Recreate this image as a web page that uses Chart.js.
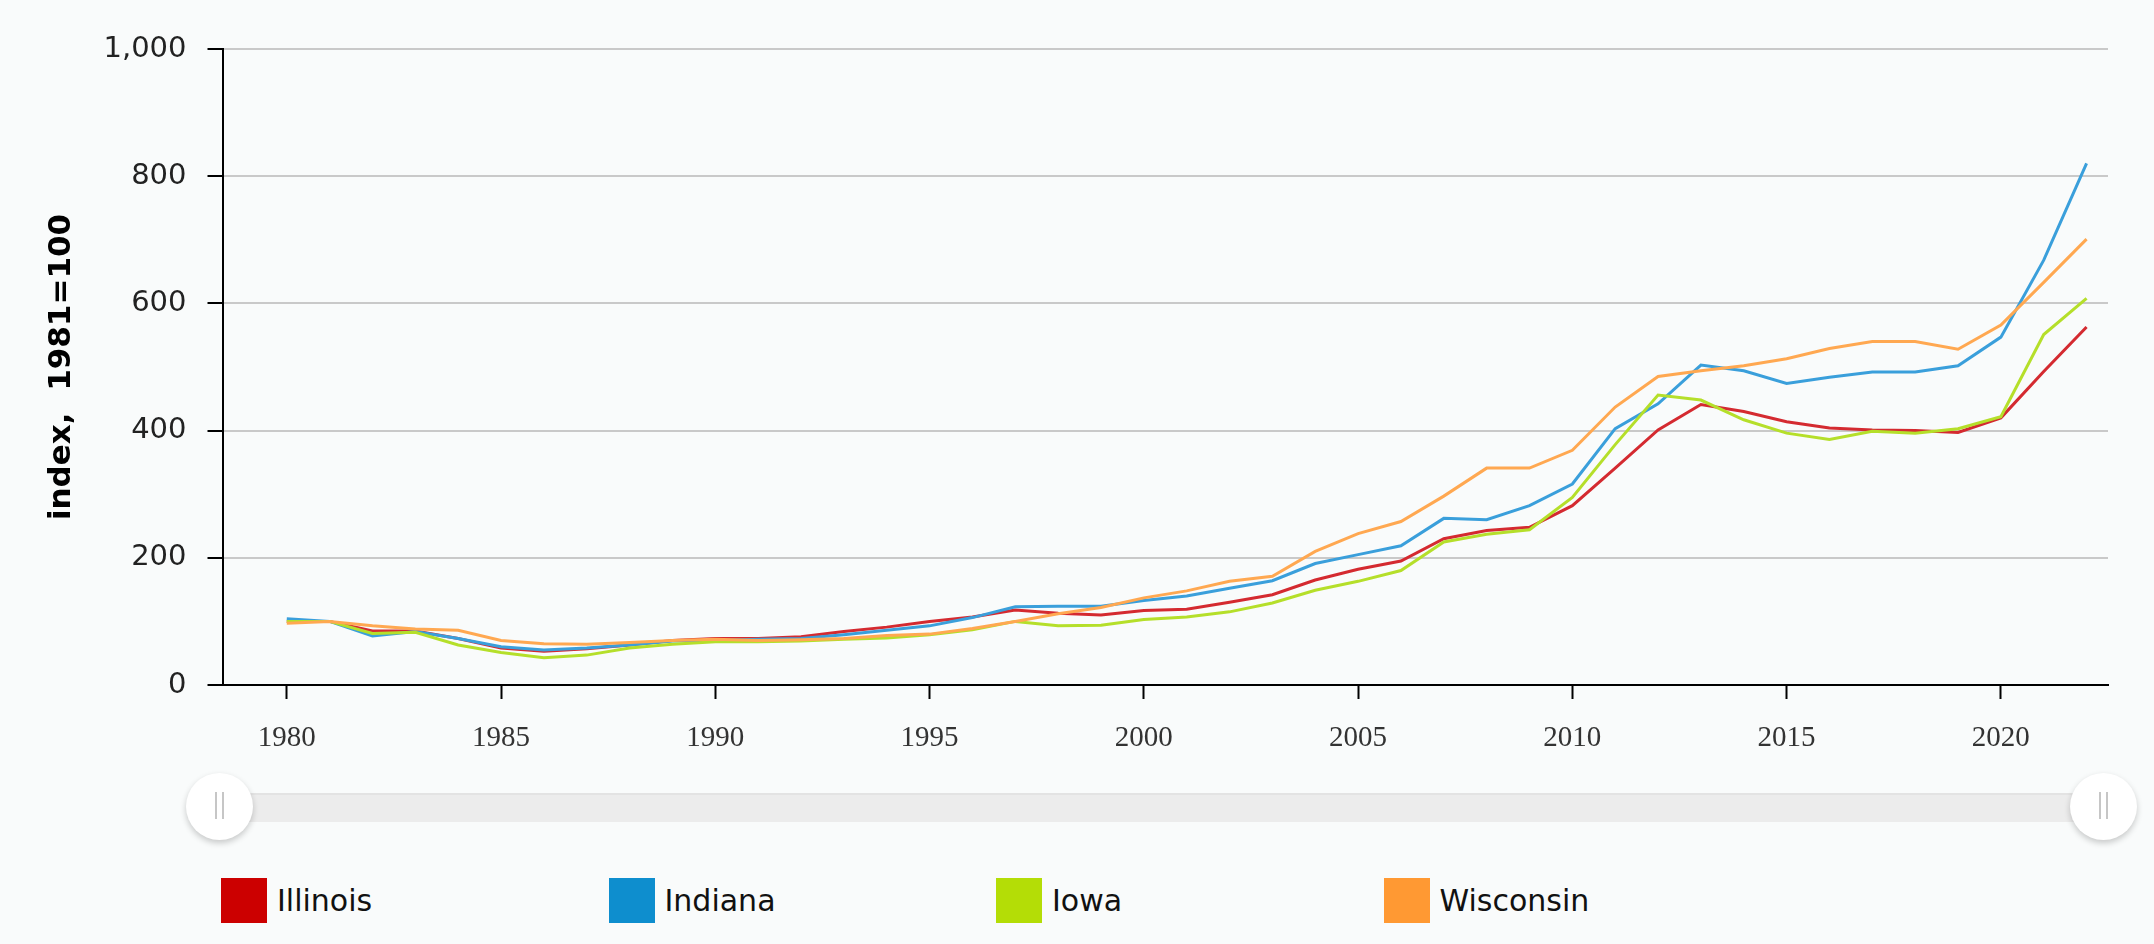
<!DOCTYPE html>
<html>
<head>
<meta charset="utf-8">
<title>index, 1981=100</title>
<script src="https://cdn.jsdelivr.net/npm/chart.js@4.4.1/dist/chart.umd.min.js"></script>
<style>
    html, body {
        margin: 0;
        padding: 0;
        background: #f9fbfb;
    }
    #wrap {
        position: relative;
        width: 2154px;
        height: 944px;
        overflow: hidden;
    }
    #chartBox {
        position: absolute;
        left: 0;
        top: 0;
        width: 2154px;
        height: 765px;
    }
    .track {
        position: absolute;
        left: 220px;
        top: 793px;
        width: 1884px;
        height: 27px;
        background: #ececec;
        border-top: 2px solid #e3e3e3;
    }
    .handle {
        position: absolute;
        top: 773px;
        width: 67px;
        height: 67px;
        border-radius: 50%;
        background: #fff;
        box-shadow: 0 3px 6px rgba(0, 0, 0, 0.2);
    }
    .handle::before, .handle::after {
        content: '';
        position: absolute;
        top: 19px;
        width: 2px;
        height: 27px;
        background: #c6c6c6;
    }
    .handle::before { left: 29px; }
    .handle::after { left: 36px; }
    #legend {
        position: absolute;
        left: 0;
        top: 878px;
        width: 2154px;
        height: 46px;
    }
    .item {
        position: absolute;
        top: 0;
        height: 45px;
        font-family: 'DejaVu Sans', Verdana, sans-serif;
        font-size: 30px;
        line-height: 45px;
        color: #111;
        white-space: nowrap;
    }
    .item .sw {
        display: inline-block;
        width: 46px;
        height: 45px;
        vertical-align: top;
        margin-right: 10px;
    }
</style>
</head>
<body>
<div id="wrap">
    <div id="chartBox"><canvas id="chart"></canvas></div>
    <div class="track"></div>
    <div class="handle" style="left:186px"></div>
    <div class="handle" style="left:2070px"></div>
    <div id="legend"></div>
</div>
<script>
const years = [1980, 1981, 1982, 1983, 1984, 1985, 1986, 1987, 1988, 1989,
    1990, 1991, 1992, 1993, 1994, 1995, 1996, 1997, 1998, 1999,
    2000, 2001, 2002, 2003, 2004, 2005, 2006, 2007, 2008, 2009,
    2010, 2011, 2012, 2013, 2014, 2015, 2016, 2017, 2018, 2019,
    2020, 2021, 2022];

const illinois = [100, 100, 85, 85, 73, 58, 53, 57, 63, 70,
    73, 73, 76, 84, 91, 100, 107, 118, 113, 110,
    117, 119, 130, 142, 165, 182, 195, 230, 243, 248,
    282, 341, 401, 441, 430, 414, 404, 401, 400, 397,
    420, 493, 563];

const indiana = [104, 100, 77, 84, 73, 60, 55, 58, 63, 69,
    70, 72, 73, 79, 86, 93, 106, 123, 124, 124,
    133, 140, 152, 164, 191, 205, 219, 262, 260, 282,
    316, 403, 442, 503, 494, 474, 484, 492, 492, 502,
    547, 668, 820];

const iowa = [100, 100, 81, 83, 63, 51, 43, 47, 58, 64,
    68, 68, 69, 72, 74, 79, 87, 100, 93, 94,
    103, 107, 115, 129, 149, 163, 180, 225, 237, 244,
    295, 378, 456, 448, 417, 396, 386, 399, 396, 403,
    422, 551, 608];

const wisconsin = [97, 100, 93, 88, 86, 70, 65, 64, 67, 70,
    72, 70, 71, 73, 78, 80, 89, 100, 112, 122,
    137, 148, 163, 171, 210, 238, 257, 297, 341, 341,
    369, 437, 485, 494, 502, 513, 529, 540, 540, 528,
    566, 633, 701];

const seriesNames = ['Illinois', 'Indiana', 'Iowa', 'Wisconsin'];
const xTicks = [1980, 1985, 1990, 1995, 2000, 2005, 2010, 2015, 2020];
const yTicks = [0, 200, 400, 600, 800, 1000];

// цвета линий и квадратиков легенды
const lineColors = ['#d42a30', '#3a9fdb', '#b5df2a', '#ffa851'];
const swatchColors = ['#cc0000', '#0e8ece', '#b4dd06', '#ff9933'];

const toPoints = (vals) => years.map((yr, i) => ({ x: yr, y: vals[i] }));

const allSeries = [illinois, indiana, iowa, wisconsin];

const datasets = allSeries.map((vals, i) => ({
    label: seriesNames[i],
    data: toPoints(vals),
    borderColor: lineColors[i],
    backgroundColor: lineColors[i],
    borderWidth: 3,
    pointRadius: 0,
    fill: false,
    tension: 0,
    order: allSeries.length - 1 - i
}));

document.addEventListener('DOMContentLoaded', () => {
    const ctx = document.getElementById('chart').getContext('2d');
    new Chart(ctx, {
        type: 'line',
        data: { datasets: datasets },
        options: {
            animation: false,
            responsive: true,
            maintainAspectRatio: false,
            layout: {
                padding: { top: 49, right: 46, bottom: 0, left: 0 }
            },
            plugins: {
                legend: { display: false },
                tooltip: { enabled: false }
            },
            scales: {
                x: {
                    type: 'linear',
                    min: 1978.5,
                    max: 2022.5,
                    afterBuildTicks: (scale) => {
                        scale.ticks = xTicks.map(v => ({ value: v }));
                    },
                    afterFit: (scale) => {
                        scale.height = 80;
                    },
                    border: { display: true, color: '#000', width: 2 },
                    grid: {
                        drawOnChartArea: false,
                        drawTicks: true,
                        tickLength: 14,
                        tickColor: '#000',
                        tickWidth: 2
                    },
                    ticks: {
                        padding: 22,
                        maxRotation: 0,
                        color: '#333',
                        font: { family: "'Liberation Serif', 'Times New Roman', serif", size: 29 },
                        callback: (v) => String(v)
                    }
                },
                y: {
                    min: 0,
                    max: 1000,
                    afterBuildTicks: (scale) => {
                        scale.ticks = yTicks.map(v => ({ value: v }));
                    },
                    afterFit: (scale) => {
                        scale.width = 222.5;
                    },
                    border: { display: true, color: '#000', width: 2 },
                    grid: {
                        color: '#c9c9c9',
                        lineWidth: 2,
                        tickLength: 15,
                        tickColor: '#000',
                        tickWidth: 2
                    },
                    ticks: {
                        padding: 21,
                        color: '#222',
                        font: { family: "'DejaVu Sans', Verdana, sans-serif", size: 29 },
                        callback: (v) => v.toLocaleString('en-US')
                    },
                    title: {
                        display: true,
                        text: 'index,  1981=100',
                        color: '#000',
                        padding: { top: 43, bottom: 0 },
                        font: { family: "'DejaVu Sans', Verdana, sans-serif", size: 31, weight: 'bold' }
                    }
                }
            }
        }
    });

    // легенда снизу
    const legend = document.getElementById('legend');
    seriesNames.forEach((name, i) => {
        const item = document.createElement('div');
        item.className = 'item';
        item.style.left = (221 + i * 387.5) + 'px';
        const sw = document.createElement('span');
        sw.className = 'sw';
        sw.style.background = swatchColors[i];
        item.appendChild(sw);
        item.appendChild(document.createTextNode(name));
        legend.appendChild(item);
    });
});
</script>
</body>
</html>
